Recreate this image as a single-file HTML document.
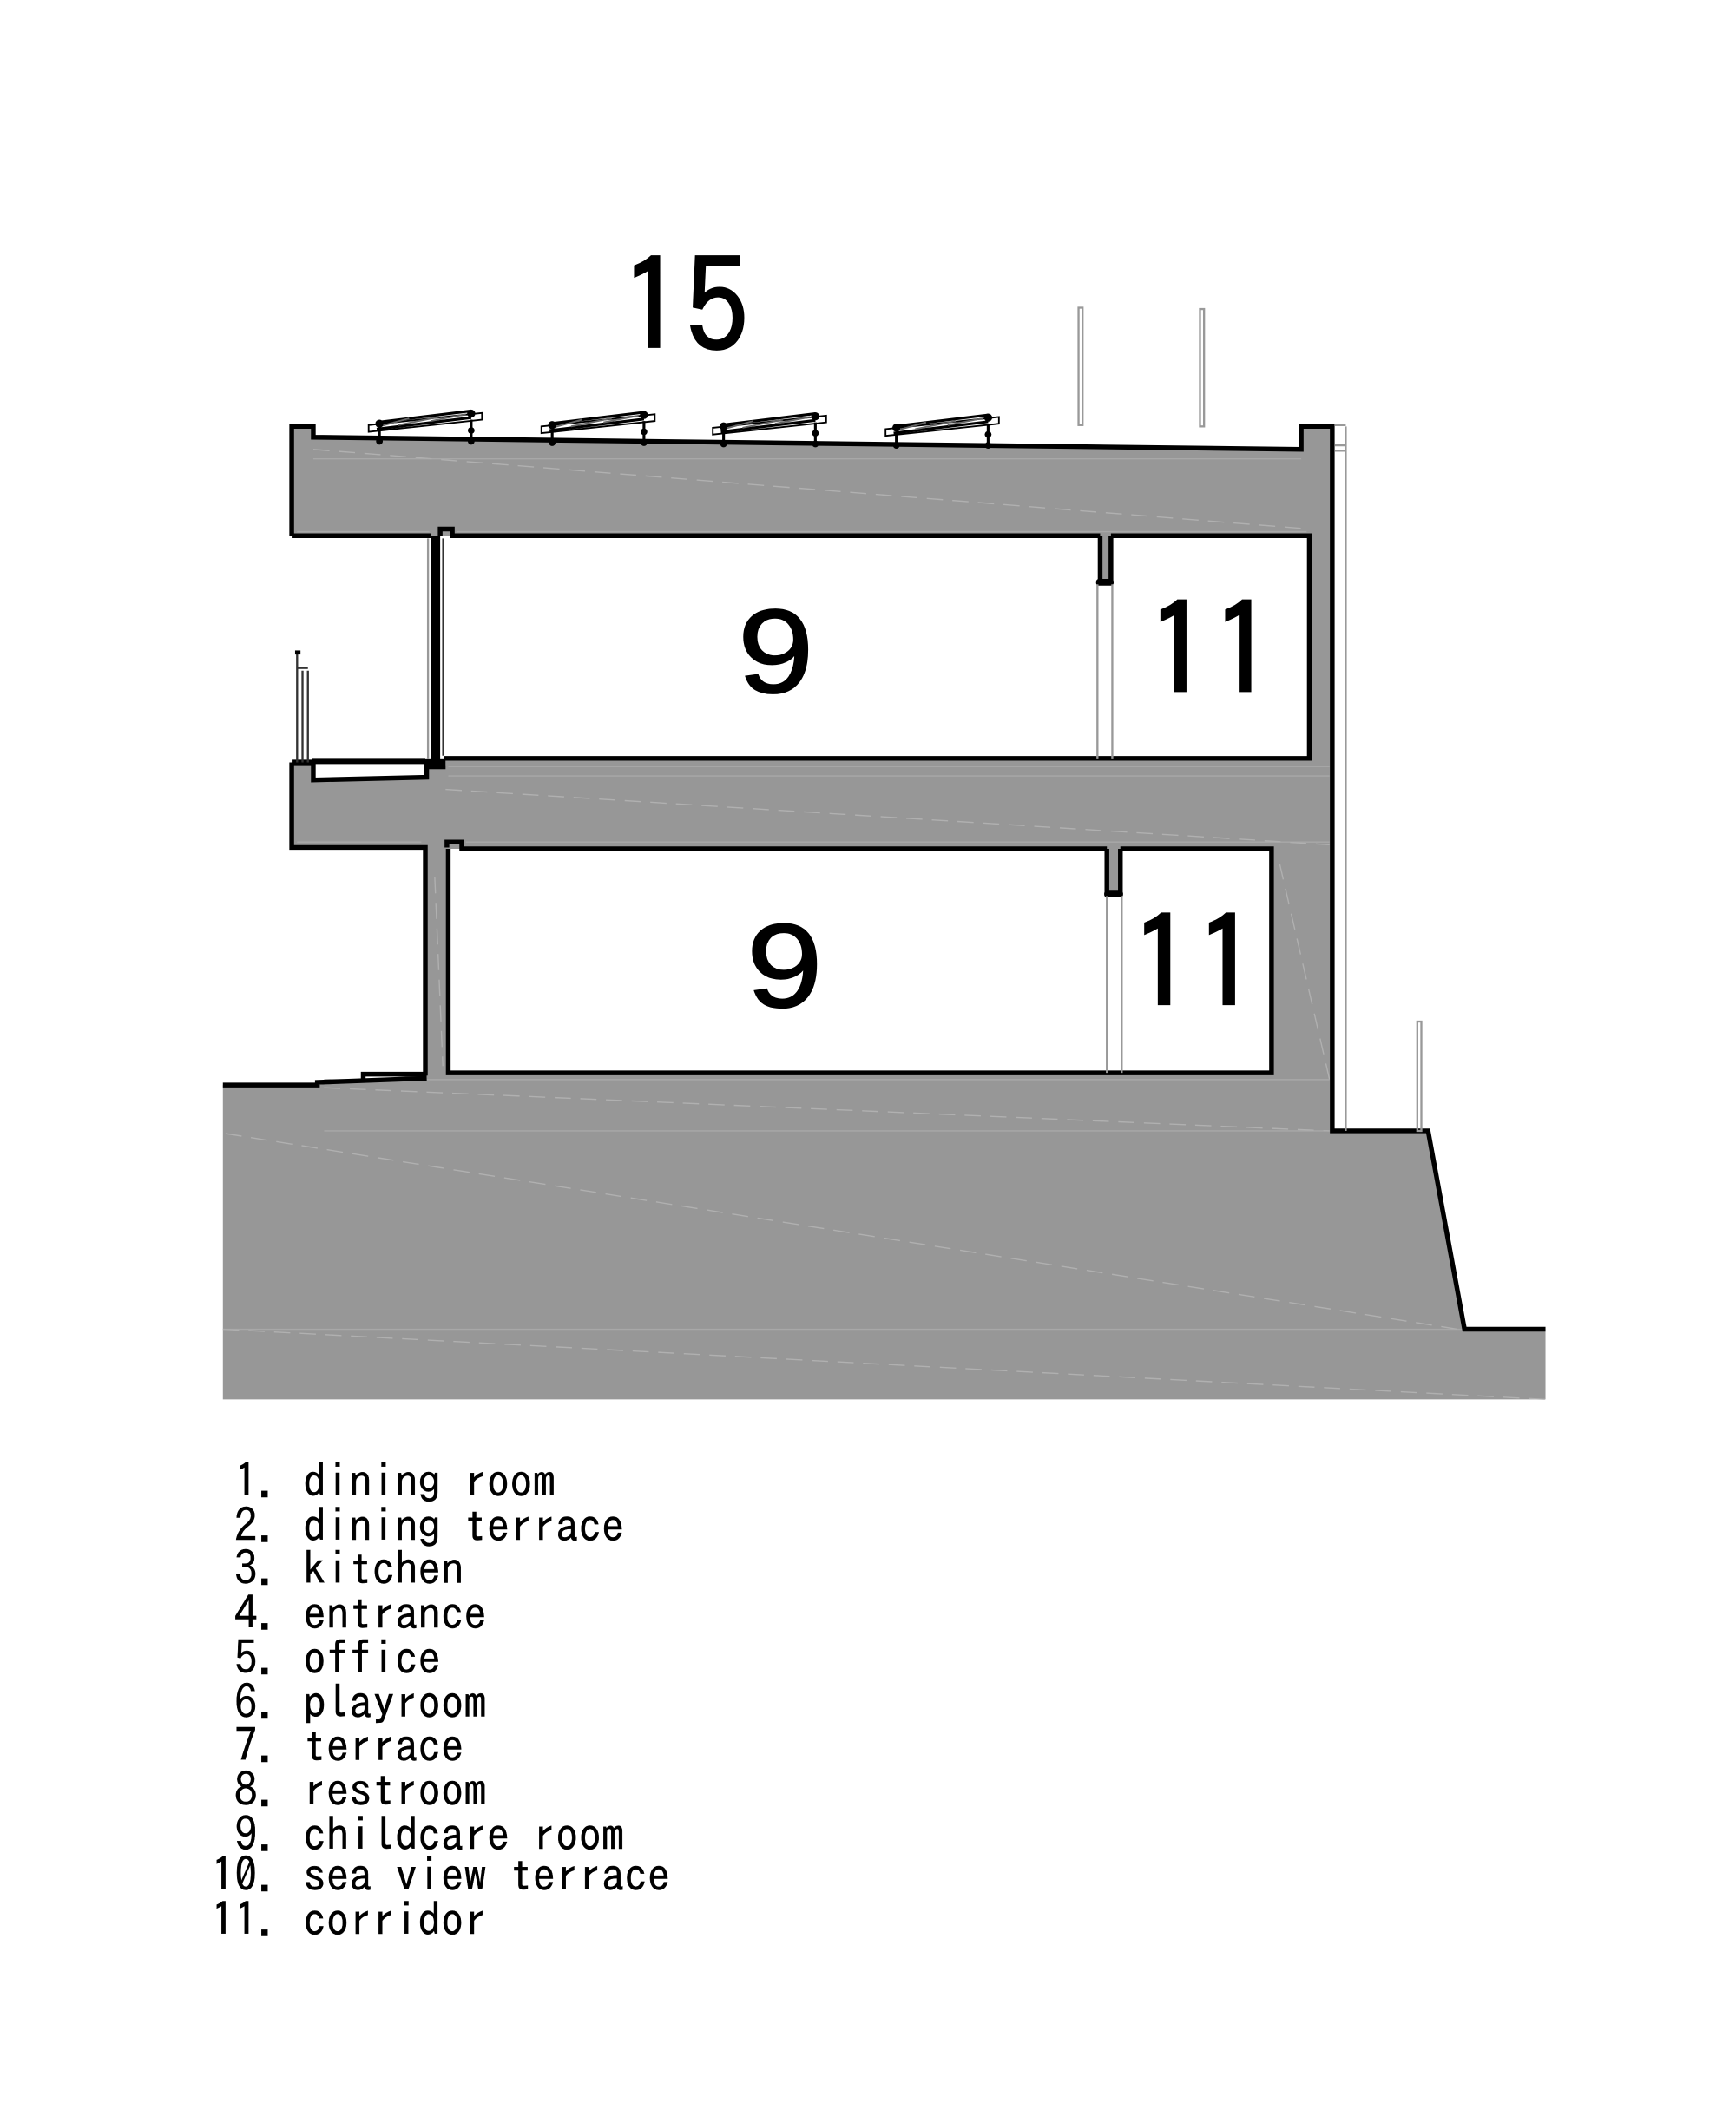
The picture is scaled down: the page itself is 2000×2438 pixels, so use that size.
<!DOCTYPE html>
<html><head><meta charset="utf-8"><style>
html,body{margin:0;padding:0;background:#fff}
svg{display:block}
.l{font-family:"IPAGothic","Liberation Mono",monospace;font-size:34px;fill:#000;white-space:pre;stroke:#000;stroke-width:.25px}
.b{font-family:"IPAGothic","Liberation Sans",sans-serif;font-size:96px;fill:#000;stroke:#000;stroke-width:1.400px}
.n{font-family:"Liberation Sans",sans-serif;font-size:88px;fill:#000;stroke:#000;stroke-width:1.200px}
</style></head><body>
<svg width="2000" height="2438" viewBox="0 0 1286 1568" xmlns="http://www.w3.org/2000/svg">
<defs>
<g id="p">
<path d="M0,12 L84,3 L84,8 L0,17Z" fill="#fff" stroke="#000" stroke-width="1.200"/>
<path d="M6,10 L76,1.500 M6,15 L76,6.500" stroke="#000" stroke-width="2" fill="none"/>
<path d="M8,13 L30,7 M22,12 L52,6 M46,9 L72,4" stroke="#666" stroke-width="1.200" fill="none"/>
<path d="M8,15 V26 M76,8 V26" stroke="#000" stroke-width="2" fill="none"/>
<circle cx="8" cy="11" r="3"/><circle cx="76" cy="3.500" r="3"/><circle cx="76" cy="16" r="2.500"/><circle cx="8" cy="24" r="2.500"/><circle cx="76" cy="24" r="2.500"/>
</g>
</defs>
<rect width="1286" height="1568" fill="#fff"/>
<path d="M216,316 H232 V324 L964,333 V316 H987 V838 H1058 L1085,985 H1145 V1037 H165 V804 H234 L315,798 V628 H216 V565 H232 V577 L315,575 V565 H328 V397 H216Z" fill="#979797"/>
<rect x="329" y="397" width="641" height="165" fill="#fff"/>
<rect x="332" y="629" width="610" height="166" fill="#fff"/>
<rect x="815" y="397" width="8" height="34" fill="#979797"/>
<rect x="820" y="629" width="10" height="33" fill="#979797"/>
<rect x="318" y="397" width="12" height="170" fill="#fff"/>
<g stroke="#b8b8b8" stroke-width=".9" fill="none" stroke-dasharray="12 7" stroke-opacity=".75">
<path d="M232,333 L970,392"/>
<path d="M330,585 L985,626"/>
<path d="M240,806 L985,838"/>
<path d="M167,840 L1080,985"/>
<path d="M165,985 L1145,1037"/>
<path d="M948,640 L985,800"/>
<path d="M322,650 L328,790"/>
</g>
<g stroke="#adadad" stroke-width=".9" fill="none" stroke-opacity=".8">
<path d="M232,340 H964"/><path d="M220,394 H318 M338,394 H968"/>
<path d="M332,568 H985 M332,575 H985"/><path d="M220,624 H312 M345,624 H985"/>
<path d="M240,800 H985"/><path d="M240,838 H985"/><path d="M165,985 H1085"/>
</g>
<g stroke="#000" stroke-width="3.500" fill="none" stroke-linejoin="miter">
<path d="M216,397 V316 H232 V324 L964,333 V316 H987 V838 H1058 L1085,985 H1145"/>
<path d="M216,397 H319 M326,397 V392 H335 V397 H815"/>
<path d="M823,397 H970 V562 H329"/>
<path d="M815,397 V431 M823,397 V431"/>
<path d="M216,565 V628 H315 V797"/>
<path d="M331,628 V624 H342 V629 H820 M830,629 H942 V795 H332 V629"/>
<path d="M820,629 V662 M830,629 V662"/>
<path d="M165,804 H235 V802 L316,799"/>
<path d="M269,801 V796 H316"/>
<path d="M232,564 V578 L316,576 V564"/>
</g>
<path d="M231,564 H315" stroke="#000" stroke-width="4.500"/>
<path d="M216,565 H232" stroke="#000" stroke-width="4"/>
<rect x="319" y="397" width="7" height="172" fill="#000"/>
<rect x="315" y="562" width="15" height="8" fill="#000"/>
<rect x="812" y="429" width="13" height="5" rx="2" fill="#000"/>
<rect x="818" y="660" width="14" height="5" rx="2" fill="#000"/>
<g stroke="#999" stroke-width="1.500" fill="none">
<path d="M813,433 V562 M824,433 V562"/>
<path d="M820,664 V795 M831,664 V795"/>
<rect x="799" y="228" width="3" height="87"/>
<rect x="889" y="229" width="3" height="87"/>
<rect x="1050" y="757" width="3" height="81"/>
<path d="M997,316 V838"/><path d="M317,399 V562"/>
<path d="M989,315 H997 M989,330 H997 M989,334 H997"/>
</g>
<path d="M328,399 V560" stroke="#333" stroke-width="1" fill="none"/>
<g stroke="#333" stroke-width="1.500" fill="none">
<path d="M220,484 V565"/><path d="M224,497 V565 M228,497 V565"/><path d="M220,495 H228"/>
</g>
<rect x="218.500" y="482" width="4" height="3" fill="#000"/>
<use href="#p" x="273" y="303"/>
<use href="#p" x="401" y="304"/>
<use href="#p" x="528" y="305"/>
<use href="#p" x="656" y="306"/>
<text class="b" x="459" y="262">15</text>
<text class="b" x="849" y="517">11</text>
<text class="b" x="837" y="749">11</text>
<text class="n" transform="translate(546.500,513) scale(1.15,1)">9</text>
<text class="n" transform="translate(553,746) scale(1.15,1)">9</text>
<text class="l" x="173.500" y="1109.500">1. dining room</text>
<text class="l" x="173.500" y="1142.500">2. dining terrace</text>
<text class="l" x="173.500" y="1174.500">3. kitchen</text>
<text class="l" x="173.500" y="1207.500">4. entrance</text>
<text class="l" x="173.500" y="1240.500">5. office</text>
<text class="l" x="173.500" y="1273.500">6. playroom</text>
<text class="l" x="173.500" y="1305.500">7. terrace</text>
<text class="l" x="173.500" y="1338.500">8. restroom</text>
<text class="l" x="173.500" y="1371.500">9. childcare room</text>
<text class="l" x="156.500" y="1401.500">10. sea view terrace</text>
<text class="l" x="156.500" y="1434.500">11. corridor</text>
</svg>
</body></html>
